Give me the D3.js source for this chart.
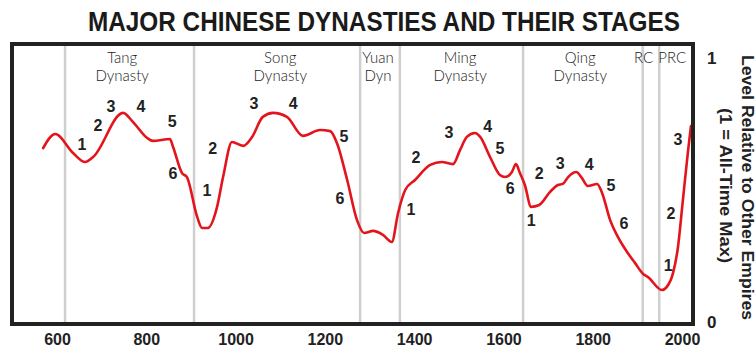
<!DOCTYPE html>
<html>
<head>
<meta charset="utf-8">
<script src="https://cdn.jsdelivr.net/npm/d3@7"></script>
<style>
  html, body { margin: 0; padding: 0; background: #fff; }
  svg { display: block; }
</style>
</head>
<body>
<svg id="chart" width="756" height="354"></svg>
<script>
// ---- DATA ----
const years = [569, 596, 636, 663, 681, 748, 770, 802, 815, 853, 860, 880, 891, 914, 925, 938, 958, 972, 992, 1017, 1037, 1061, 1084, 1115, 1151, 1189, 1212, 1227, 1250, 1272, 1288, 1308, 1330, 1350, 1364, 1380, 1402, 1436, 1462, 1487, 1503, 1518, 1536, 1548, 1570, 1592, 1604, 1619, 1628, 1637, 1648, 1662, 1680, 1704, 1722, 1733, 1745, 1763, 1776, 1789, 1810, 1821, 1839, 1854, 1877, 1895, 1913, 1924, 1955, 1966, 1980, 1991, 2002, 2013, 2020];
const levels = [0.659, 0.712, 0.640, 0.606, 0.625, 0.792, 0.758, 0.697, 0.686, 0.693, 0.663, 0.564, 0.549, 0.398, 0.356, 0.356, 0.432, 0.549, 0.682, 0.667, 0.701, 0.777, 0.792, 0.777, 0.705, 0.727, 0.723, 0.678, 0.538, 0.386, 0.337, 0.345, 0.330, 0.303, 0.413, 0.500, 0.538, 0.595, 0.606, 0.598, 0.652, 0.701, 0.716, 0.701, 0.625, 0.557, 0.549, 0.568, 0.598, 0.564, 0.519, 0.436, 0.443, 0.492, 0.519, 0.523, 0.549, 0.568, 0.545, 0.515, 0.523, 0.489, 0.386, 0.330, 0.265, 0.223, 0.182, 0.170, 0.121, 0.133, 0.186, 0.284, 0.462, 0.640, 0.742];

const boundaryYears = [618, 907, 1279, 1368, 1644, 1912, 1949];

const dynastyNames = [["Tang", "Dynasty"], ["Song", "Dynasty"], ["Yuan", "Dyn"], ["Ming", "Dynasty"], ["Qing", "Dynasty"], ["RC"], ["PRC"]];
const dynastyLabelYears = [746, 1100, 1319, 1503, 1772, 1914, 1978];

const stageText = ["1","2","3","4","5","6", "1","2","3","4","5","6", "1","2","3","4","5","6", "1","2","3","4","5","6", "1","2","3"];
const stageYears = [656, 692, 721, 788, 858, 860, 936, 949, 1041, 1129, 1243, 1234, 1393, 1404, 1478, 1565, 1592, 1615, 1662, 1680, 1727, 1792, 1841, 1870, 1969, 1975, 1991];
const stageLevels = [0.674, 0.746, 0.818, 0.818, 0.761, 0.564, 0.500, 0.659, 0.830, 0.830, 0.705, 0.470, 0.428, 0.625, 0.720, 0.742, 0.659, 0.508, 0.386, 0.564, 0.602, 0.598, 0.519, 0.375, 0.216, 0.413, 0.693];

const xTicks = [600, 800, 1000, 1200, 1400, 1600, 1800, 2000];
const yTicks = [0, 1];

const title = "MAJOR CHINESE DYNASTIES AND THEIR STAGES";
const yTitle1 = "Level Relative to Other Empires";
const yTitle2 = "(1 = All-Time Max)";

// ---- CHART ----
const svg = d3.select("#chart");
const frame = { left: 12, right: 693, top: 44, bottom: 324 };
const x = d3.scaleLinear().domain([600, 2000]).range([57, 682]);
const y = d3.scaleLinear().domain([0, 1]).range([322, 58]);

svg.append("rect").attr("width", 756).attr("height", 354).attr("fill", "#fff");

// title
svg.append("text")
  .attr("x", 384).attr("y", 31)
  .attr("text-anchor", "middle")
  .attr("font-family", "'Liberation Sans Narrow', 'Arial Narrow', 'Liberation Sans', sans-serif")
  .attr("font-weight", "bold")
  .attr("font-size", 27)
  .attr("fill", "#1a1a1a")
  .attr("textLength", 592)
  .attr("lengthAdjust", "spacingAndGlyphs")
  .text(title);

// boundary lines
svg.append("g").selectAll("line").data(boundaryYears).join("line")
  .attr("x1", d => x(d)).attr("x2", d => x(d))
  .attr("y1", frame.top).attr("y2", frame.bottom)
  .attr("stroke", "#cfcfcf").attr("stroke-width", 2.5);

// dynasty labels
const dl = svg.append("g")
  .attr("font-family", "Lato, 'Open Sans', sans-serif")
  .attr("font-weight", 300)
  .attr("font-size", 15)
  .attr("fill", "#222")
  .attr("text-anchor", "middle");
dynastyNames.forEach((lines, i) => {
  lines.forEach((ln, j) => {
    dl.append("text")
      .attr("x", x(dynastyLabelYears[i]))
      .attr("y", 63 + j * 18)
      .text(ln);
  });
});

// curve
const pts = years.map((yr, i) => [yr, levels[i]]);
const line = d3.line().x(d => x(d[0])).y(d => y(d[1])).curve(d3.curveMonotoneX);
svg.append("path")
  .attr("d", line(pts))
  .attr("fill", "none")
  .attr("stroke", "#e3141c")
  .attr("stroke-width", 2.6)
  .attr("stroke-linejoin", "round")
  .attr("stroke-linecap", "round");

// stage numbers
svg.append("g")
  .attr("font-family", "'Liberation Sans', Arial, sans-serif")
  .attr("font-weight", "bold")
  .attr("font-size", 16)
  .attr("fill", "#222")
  .attr("text-anchor", "middle")
  .selectAll("text").data(stageText).join("text")
  .attr("x", (d, i) => x(stageYears[i]))
  .attr("y", (d, i) => y(stageLevels[i]) + 6)
  .text(d => d);

// frame
svg.append("rect")
  .attr("x", frame.left).attr("y", frame.top)
  .attr("width", frame.right - frame.left)
  .attr("height", frame.bottom - frame.top)
  .attr("fill", "none")
  .attr("stroke", "#222")
  .attr("stroke-width", 4);

// x axis
const xAxis = d3.axisBottom(x).tickValues(xTicks).tickFormat(d3.format("d")).tickSize(0).tickPadding(0);
const gx = svg.append("g").attr("transform", `translate(0, ${frame.bottom + 10})`).call(xAxis);
gx.select(".domain").remove();
gx.selectAll("text")
  .attr("font-family", "'Liberation Sans', Arial, sans-serif")
  .attr("font-weight", "bold")
  .attr("font-size", 16)
  .attr("fill", "#222")
  .attr("dy", "0.71em");

// y axis
const yAxis = d3.axisRight(y).tickValues(yTicks).tickFormat(d3.format("d")).tickSize(0).tickPadding(0);
const gy = svg.append("g").attr("transform", `translate(707, 0)`).call(yAxis);
gy.select(".domain").remove();
gy.selectAll("text")
  .attr("font-family", "'Liberation Sans', Arial, sans-serif")
  .attr("font-weight", "bold")
  .attr("font-size", 17)
  .attr("fill", "#222");

// y titles
svg.append("text")
  .attr("transform", "translate(742, 187.5) rotate(90)")
  .attr("text-anchor", "middle")
  .attr("font-family", "'Liberation Sans', Arial, sans-serif")
  .attr("font-weight", "bold")
  .attr("font-size", 16)
  .attr("fill", "#222")
  .attr("textLength", 265)
  .attr("lengthAdjust", "spacingAndGlyphs")
  .text(yTitle1);
svg.append("text")
  .attr("transform", "translate(720, 185.5) rotate(90)")
  .attr("text-anchor", "middle")
  .attr("font-family", "'Liberation Sans', Arial, sans-serif")
  .attr("font-weight", "bold")
  .attr("font-size", 16)
  .attr("fill", "#222")
  .attr("textLength", 155)
  .attr("lengthAdjust", "spacingAndGlyphs")
  .text(yTitle2);
</script>
</body>
</html>
